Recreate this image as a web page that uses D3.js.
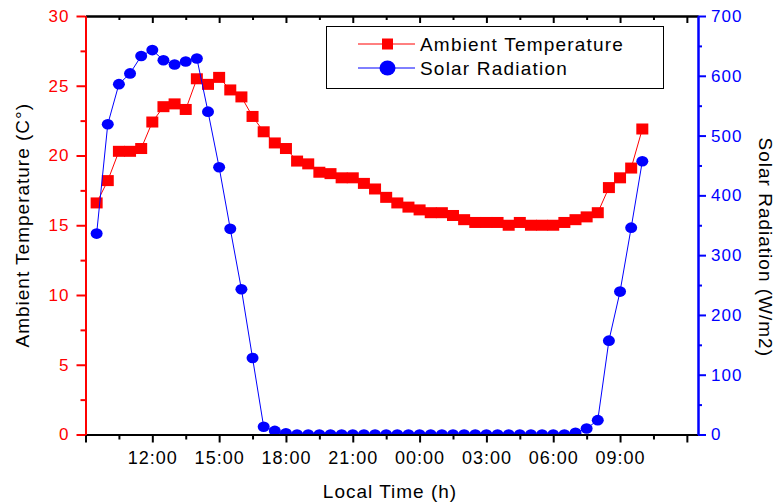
<!DOCTYPE html>
<html>
<head>
<meta charset="utf-8">
<script src="https://cdn.jsdelivr.net/npm/d3@7"></script>
<style>
  body { margin: 0; background: #fff; }
  text { font-family: "Liberation Sans", Arial, sans-serif; }
</style>
</head>
<body>
<div id="root"></div>
<script>
// local time of each half-hourly reading (day 1 -> day 2)
const times = ["09:30","10:00","10:30","11:00","11:30","12:00","12:30","13:00","13:30","14:00",
  "14:30","15:00","15:30","16:00","16:30","17:00","17:30","18:00","18:30","19:00",
  "19:30","20:00","20:30","21:00","21:30","22:00","22:30","23:00","23:30","00:00",
  "00:30","01:00","01:30","02:00","02:30","03:00","03:30","04:00","04:30","05:00",
  "05:30","06:00","06:30","07:00","07:30","08:00","08:30","09:00","09:30","10:00"];

const temperature = [16.6,18.2,20.3,20.3,20.5,22.4,23.5,23.7,23.3,25.5,
  25.1,25.6,24.7,24.2,22.8,21.7,20.9,20.5,19.6,19.4,
  18.8,18.7,18.4,18.4,18.0,17.6,17.0,16.6,16.3,16.1,
  15.9,15.9,15.7,15.4,15.2,15.2,15.2,15.0,15.2,15.0,
  15.0,15.0,15.2,15.4,15.6,15.9,17.7,18.4,19.1,21.9];

const radiation = [336,519,586,604,633,643,626,619,624,629,
  540,447,344,243,128,13,6,2,0,0,
  0,0,0,0,0,0,0,0,0,0,
  0,0,0,0,0,0,0,0,0,0,
  0,0,0,3,10,24,157,239,346,457];

const xTickLabels = ["", "12:00", "15:00", "18:00", "21:00", "00:00", "03:00", "06:00", "09:00", ""];
const xMajorHours = [9, 12, 15, 18, 21, 24, 27, 30, 33, 36];
const xMinorHours = [10.5, 13.5, 16.5, 19.5, 22.5, 25.5, 28.5, 31.5, 34.5];
const tempTicks = [0, 5, 10, 15, 20, 25, 30];
const tempMinor = [2.5, 7.5, 12.5, 17.5, 22.5, 27.5];
const radTicks = [0, 100, 200, 300, 400, 500, 600, 700];
const radMinor = [50, 150, 250, 350, 450, 550, 650];

// times after midnight belong to the next day
let day = 0, prev = -1;
const hours = times.map(t => {
  const p = t.split(":");
  let h = +p[0] + (+p[1]) / 60;
  if (h < prev) day = 24;
  prev = h;
  return h + day;
});

const data = hours.map((h, i) => ({ h: h, temp: temperature[i], rad: radiation[i] }));

const W = 777, H = 504;
const box = { left: 85.5, right: 698, top: 16, bottom: 434.5 };

const svg = d3.select("#root").append("svg")
  .attr("width", W).attr("height", H);

const x = d3.scaleLinear().domain([9, 36.5]).range([box.left, box.right]);
const yT = d3.scaleLinear().domain([0, 30]).range([box.bottom, box.top]);
const yR = d3.scaleLinear().domain([0, 700]).range([box.bottom, box.top]);

svg.append("clipPath").attr("id", "plot-clip")
  .append("rect").attr("x", box.left).attr("y", box.top)
  .attr("width", box.right - box.left).attr("height", box.bottom - box.top);

const plot = svg.append("g").attr("clip-path", "url(#plot-clip)");

// temperature
plot.append("path")
  .datum(data)
  .attr("fill", "none")
  .attr("stroke", "#ff0000")
  .attr("stroke-width", 1)
  .attr("d", d3.line().x(d => x(d.h)).y(d => yT(d.temp)));

plot.selectAll(".sq")
  .data(data)
  .enter().append("rect")
  .attr("class", "sq")
  .attr("x", d => x(d.h) - 6)
  .attr("y", d => yT(d.temp) - 5.5)
  .attr("width", 12)
  .attr("height", 11)
  .attr("fill", "#ff0000");

// solar radiation
plot.append("path")
  .datum(data)
  .attr("fill", "none")
  .attr("stroke", "#0000ff")
  .attr("stroke-width", 1)
  .attr("d", d3.line().x(d => x(d.h)).y(d => yR(d.rad)));

plot.selectAll(".dot")
  .data(data)
  .enter().append("ellipse")
  .attr("class", "dot")
  .attr("cx", d => x(d.h))
  .attr("cy", d => yR(d.rad))
  .attr("rx", 6)
  .attr("ry", 5.3)
  .attr("fill", "#0000ff");

// axes
const styleAxis = (g, color, fontSize) => {
  g.select(".domain").attr("stroke", color).attr("stroke-width", 2);
  g.selectAll(".tick line").attr("stroke", color).attr("stroke-width", 2);
  g.selectAll(".tick text")
    .attr("fill", color)
    .style("font-size", fontSize + "px")
    .style("letter-spacing", "1px")
    .style("font-family", '"Liberation Sans", Arial, sans-serif');
};

// bottom
const gx = svg.append("g").attr("transform", "translate(0," + box.bottom + ")")
  .call(d3.axisBottom(x).tickValues(xMajorHours).tickSize(8).tickSizeOuter(0).tickPadding(9)
    .tickFormat((d, i) => xTickLabels[i]));
styleAxis(gx, "#000", 18);

svg.append("g").attr("transform", "translate(0," + box.bottom + ")")
  .call(d3.axisBottom(x).tickValues(xMinorHours).tickSize(5).tickSizeOuter(0).tickFormat(""))
  .call(g => styleAxis(g, "#000", 18));

// top, ticks pointing in
svg.append("g").attr("transform", "translate(0," + box.top + ")")
  .call(d3.axisTop(x).tickValues(xMajorHours).tickSize(-7).tickSizeOuter(0).tickFormat(""))
  .call(g => styleAxis(g, "#000", 18));
svg.append("g").attr("transform", "translate(0," + box.top + ")")
  .call(d3.axisTop(x).tickValues(xMinorHours).tickSize(-4).tickSizeOuter(0).tickFormat(""))
  .call(g => styleAxis(g, "#000", 18));

// left
const gl = svg.append("g").attr("transform", "translate(" + box.left + ",0)")
  .call(d3.axisLeft(yT).tickValues(tempTicks).tickSize(9).tickSizeOuter(0).tickPadding(7));
styleAxis(gl, "#ff0000", 17);
svg.append("g").attr("transform", "translate(" + box.left + ",0)")
  .call(d3.axisLeft(yT).tickValues(tempMinor).tickSize(5).tickSizeOuter(0).tickFormat(""))
  .call(g => styleAxis(g, "#ff0000", 17));

// right
const gr = svg.append("g").attr("transform", "translate(" + box.right + ",0)")
  .call(d3.axisRight(yR).tickValues(radTicks).tickSize(8).tickSizeOuter(0).tickPadding(5));
styleAxis(gr, "#0000ff", 17);
svg.append("g").attr("transform", "translate(" + box.right + ",0)")
  .call(d3.axisRight(yR).tickValues(radMinor).tickSize(4).tickSizeOuter(0).tickFormat(""))
  .call(g => styleAxis(g, "#0000ff", 17));

// axis titles
svg.append("text")
  .attr("transform", "translate(29," + ((box.top + box.bottom) / 2) + ") rotate(-90)")
  .attr("text-anchor", "middle")
  .style("font-size", "19px")
  .style("letter-spacing", "1px")
  .text("Ambient Temperature (C°)");

svg.append("text")
  .attr("transform", "translate(759," + ((box.top + box.bottom) / 2 + 22) + ") rotate(90)")
  .attr("text-anchor", "middle")
  .style("font-size", "19px")
  .style("letter-spacing", "1px")
  .text("Solar Radiation (W/m2)");

svg.append("text")
  .attr("x", 390).attr("y", 498)
  .attr("text-anchor", "middle")
  .style("font-size", "19px")
  .style("letter-spacing", "1px")
  .text("Local Time (h)");

// legend
const legend = svg.append("g");
legend.append("rect")
  .attr("x", 326.5).attr("y", 26.5)
  .attr("width", 337).attr("height", 62)
  .attr("fill", "#fff").attr("stroke", "#000").attr("stroke-width", 1);

const legendItems = [
  { name: "Ambient Temperature", color: "#ff0000", shape: "square", y: 44 },
  { name: "Solar Radiation", color: "#0000ff", shape: "circle", y: 68 }
];

legendItems.forEach(item => {
  legend.append("line")
    .attr("x1", 358).attr("x2", 415)
    .attr("y1", item.y).attr("y2", item.y)
    .attr("stroke", item.color).attr("stroke-width", 1);
  if (item.shape === "square") {
    legend.append("rect")
      .attr("x", 382).attr("y", item.y - 5.5)
      .attr("width", 11).attr("height", 11)
      .attr("fill", item.color);
  } else {
    legend.append("ellipse")
      .attr("cx", 387.5).attr("cy", item.y)
      .attr("rx", 8).attr("ry", 7.5)
      .attr("fill", item.color);
  }
  legend.append("text")
    .attr("x", 420).attr("y", item.y)
    .attr("dy", "0.36em")
    .style("font-size", "19px")
    .style("letter-spacing", "1.2px")
    .text(item.name);
});
</script>
</body>
</html>
